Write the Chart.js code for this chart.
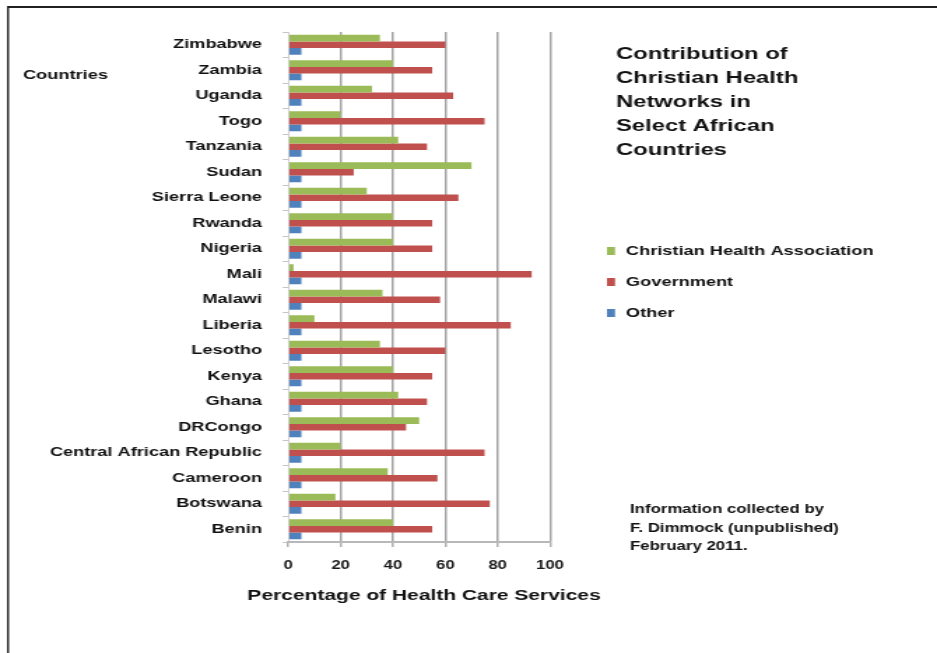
<!DOCTYPE html>
<html><head><meta charset="utf-8">
<script src="https://cdn.jsdelivr.net/npm/chart.js@4"></script>
<style>
html,body{margin:0;padding:0;background:#fff;overflow:hidden;width:937px;height:653px}
#wrap{position:absolute;left:0;top:0;width:670px;height:653px;transform:scaleX(1.39851);transform-origin:0 0}
canvas{display:block}
</style></head><body>
<div id="wrap"><canvas id="c" width="670" height="653"></canvas></div>
<script>
// ---- data (top-to-bottom order as in the picture) ----
const countries = ["Zimbabwe","Zambia","Uganda","Togo","Tanzania","Sudan","Sierra Leone","Rwanda","Nigeria","Mali","Malawi","Liberia","Lesotho","Kenya","Ghana","DRCongo","Central African Republic","Cameroon","Botswana","Benin"];
const christianHealth = [35,40,32,20,42,70,30,40,40,2,36,10,35,40,42,50,20,38,18,40];
const government      = [60,55,63,75,53,25,65,55,55,93,58,85,60,55,53,45,75,57,77,55];
const other           = [5,5,5,5,5,5,5,5,5,5,5,5,5,5,5,5,5,5,5,5];
const seriesNames = ["Christian Health Association","Government","Other"];
const xTickValues = [0,20,40,60,80,100];
const axisTitle = "Percentage of Health Care Services";
const yAxisLabel = "Countries";
const titleLines = ["Contribution of","Christian Health","Networks in","Select African","Countries"];
const noteLines = ["Information collected by","F. Dimmock (unpublished)","February 2011."];

const S = 937/670;            // horizontal stretch of the whole picture
const X = px => px / S;       // screen x -> canvas x
const colors = ['#9BBB59','#C0504D','#4F81BD'];
const FONT = '"Liberation Sans", Arial, sans-serif';

const decor = {
  id:'decor',
  afterDraw(chart){
    const ctx = chart.ctx;
    ctx.save();
    // frame
    ctx.fillStyle = '#222';
    ctx.fillRect(X(7), 6, 670, 2);
    ctx.fillRect(X(7), 6, X(2), 653);
    ctx.fillStyle = '#111';
    ctx.textBaseline = 'middle';
    ctx.textAlign = 'left';
    // y label
    ctx.font = 'bold 13px ' + FONT;
    ctx.fillText(yAxisLabel, X(23), 75);
    // title
    ctx.font = 'bold 17px ' + FONT;
    titleLines.forEach((t,i)=>ctx.fillText(t, X(616), 54 + i*24));
    // legend
    ctx.font = 'bold 13px ' + FONT;
    chart.data.datasets.forEach((ds,i)=>{
      const y = [251,282,313][i];
      ctx.fillStyle = ds.backgroundColor;
      ctx.fillRect(X(607), y-4, X(8), 8);
      ctx.fillStyle = '#111';
      ctx.fillText(ds.label, X(626), y);
    });
    // note
    ctx.font = 'bold 12px ' + FONT;
    noteLines.forEach((t,i)=>ctx.fillText(t, X(630), 510 + i*18.5));
    // x axis title
    ctx.font = 'bold 15px ' + FONT;
    ctx.textAlign = 'center';
    ctx.fillText(axisTitle, X(424), 596);
    ctx.restore();
  }
};

new Chart(document.getElementById('c'), {
  type:'bar',
  data:{
    labels: countries,
    datasets:[
      {label:seriesNames[0], data:christianHealth, backgroundColor:colors[0]},
      {label:seriesNames[1], data:government, backgroundColor:colors[1]},
      {label:seriesNames[2], data:other, backgroundColor:colors[2]}
    ]
  },
  options:{
    indexAxis:'y',
    responsive:false,
    animation:false,
    layout:{padding:{left:0, top:32, right:670 - X(550), bottom:45}},
    datasets:{bar:{categoryPercentage:0.78, barPercentage:1}},
    plugins:{legend:{display:false}, tooltip:{enabled:false}},
    scales:{
      y:{
        grid:{offset:true, drawOnChartArea:false, tickLength:4, color:'#c4c4c4', lineWidth:1},
        border:{display:true, color:'#cfcfcf', width:1},
        ticks:{color:'#111', padding: X(288.3) - X(262) - 4, font:{family:FONT, weight:'bold', size:13}},
        afterFit(s){ s.width = X(288.3); }
      },
      x:{
        min:0, max:100,
        afterBuildTicks(s){ s.ticks = xTickValues.map(v=>({value:v})); },
        grid:{
          color: c => (c.tick && c.tick.value === 0) ? 'rgba(0,0,0,0)' : '#a3a3a3',
          tickColor:'#b0b0b0', lineWidth:1.5, tickLength:5
        },
        border:{display:true, color:'#b8b8b8', width:2},
        ticks:{color:'#1a1a1a', padding:11, font:{family:FONT, weight:'bold', size:12}},
        title:{display:false, text:axisTitle},
        afterFit(s){ s.height = 66; }
      }
    }
  },
  plugins:[decor]
});
</script>
</body></html>
